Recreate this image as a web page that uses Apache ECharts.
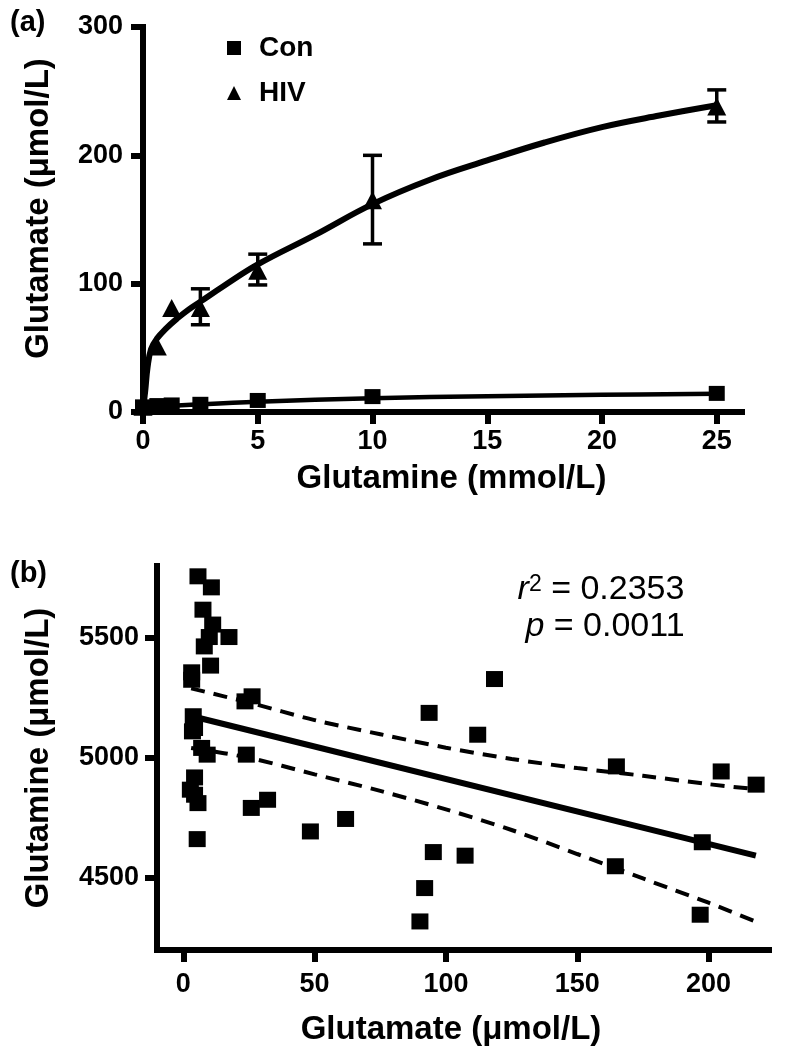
<!DOCTYPE html>
<html><head><meta charset="utf-8">
<script src="https://cdn.jsdelivr.net/npm/echarts@6/dist/echarts.min.js"></script>
<style>html,body{margin:0;padding:0;background:#fff}#c{width:800px;height:1054px}</style>
</head><body><div id="c"></div>
<script>
// ---------- Panel (a) ----------
const glnConc = [0, 0.625, 1.25, 2.5, 5, 10, 25];
const conGlu = [4, 5, 5.5, 6, 9, 12, 14.5];
const hivGlu = [4, 51, 81, 81, 110, 165, 238];
const hivErrLow = [4, 51, 81, 68, 99, 131, 226];
const hivErrHigh = [4, 51, 81, 96, 123, 200, 251];
const hivFitX = [0, 0.05, 0.1, 0.2, 0.35, 0.6, 1, 1.5, 2, 2.5, 3.5, 5, 7.5, 10, 12.5, 15, 17.5, 20, 22.5, 25];
const hivFitY = [0, 9, 17, 35, 49, 57, 65, 73, 80, 86, 98, 115, 138, 162, 181, 196, 210, 222, 231, 239];
const conFitX = [0, 2.5, 5, 10, 15, 20, 25];
const conFitY = [3.5, 6, 8, 10.8, 12.3, 13.4, 14.3];
const xTicksA = [0, 5, 10, 15, 20, 25];
const yTicksA = [0, 100, 200, 300];

// ---------- Panel (b) ----------
const glutamate = [5.6,10.7,7.5,11.2,9.9,17.4,8.0,10.4,3.2,3.2,26.2,23.5,3.8,4.3,7.0,9.1,24.0,4.3,4.3,5.6,32.1,25.9,5.3,48.4,61.8,93.6,118.5,112.1,95.2,107.3,91.9,90.1,164.9,204.8,218.1,197.6,164.5,196.8,3.5,2.7];
const glutamine = [5757,5711,5618,5556,5504,5504,5465,5385,5357,5326,5257,5236,5174,5125,5042,5014,5014,4919,4847,4812,4826,4792,4662,4694,4746,5188,5329,5097,4608,4593,4458,4319,4965,4944,4889,4649,4549,4347,5111,4868];
const regX = [3, 218];
const regY = [5175, 4593];
const bandX = [3, 25, 50, 75, 100, 125, 150, 175, 200, 218];
const bandUpper = [5290, 5231, 5158, 5099, 5043, 4996, 4958, 4926, 4891, 4870];
const bandLower = [5042, 5001, 4932, 4863, 4786, 4700, 4600, 4498, 4397, 4318];
const xTicksB = [0, 50, 100, 150, 200];
const yTicksB = [4500, 5000, 5500];

const FONT = '"Liberation Sans", Arial, Helvetica, sans-serif';
const zip = (xs, ys) => xs.map((x, i) => [x, ys[i]]);

function axis(opts) {
  return Object.assign({
    type: 'value',
    nameLocation: 'middle',
    nameTextStyle: { fontFamily: FONT, fontWeight: 'bold', fontSize: 33, color: '#000' },
    axisLine: { show: true, onZero: false, lineStyle: { color: '#000', width: 6, cap: 'square' } },
    axisTick: { show: true, length: 12, lineStyle: { color: '#000', width: 6 } },
    axisLabel: { fontFamily: FONT, fontWeight: 'bold', fontSize: 27, color: '#000', formatter: v => String(v) },
    splitLine: { show: false }
  }, opts);
}

const chart = echarts.init(document.getElementById('c'), null, { renderer: 'canvas' });
chart.setOption({
  animation: false,
  backgroundColor: '#fff',
  grid: [
    { left: 143, right: 58, top: 27, bottom: 642, containLabel: false, outerBoundsMode: 'none' },
    { left: 157, right: 31, top: 566, bottom: 104, containLabel: false, outerBoundsMode: 'none' }
  ],
  xAxis: [
    axis({ gridIndex: 0, min: 0, max: 26.1, name: 'Glutamine (mmol/L)', nameGap: 50,
      nameTextStyle: { fontFamily: FONT, fontWeight: 'bold', fontSize: 33, color: '#000', padding: [0, 0, 0, 18] },
      axisTick: { show: true, length: 12, customValues: xTicksA, lineStyle: { color: '#000', width: 6 } },
      axisLabel: { fontFamily: FONT, fontWeight: 'bold', fontSize: 27, color: '#000', margin: 16, customValues: xTicksA, formatter: v => String(v) } }),
    axis({ gridIndex: 1, min: -10, max: 223, name: 'Glutamate (μmol/L)', nameGap: 63,
      nameTextStyle: { fontFamily: FONT, fontWeight: 'bold', fontSize: 33, color: '#000', padding: [0, 24, 0, 0] },
      axisTick: { show: true, length: 12, customValues: xTicksB, lineStyle: { color: '#000', width: 6 } },
      axisLabel: { fontFamily: FONT, fontWeight: 'bold', fontSize: 27, color: '#000', margin: 21, customValues: xTicksB, formatter: v => String(v) } })
  ],
  yAxis: [
    axis({ gridIndex: 0, min: 0, max: 300, name: 'Glutamate (μmol/L)', nameGap: 88,
      nameTextStyle: { fontFamily: FONT, fontWeight: 'bold', fontSize: 33, color: '#000', padding: [0, 0, 0, 22] },
      axisTick: { show: true, length: 12, customValues: yTicksA, lineStyle: { color: '#000', width: 6 } },
      axisLabel: { fontFamily: FONT, fontWeight: 'bold', fontSize: 27, color: '#000', margin: 20, customValues: yTicksA, formatter: v => String(v) } }),
    axis({ gridIndex: 1, min: 4200, max: 5800, name: 'Glutamine (μmol/L)', nameGap: 102,
      axisTick: { show: true, length: 12, customValues: yTicksB, lineStyle: { color: '#000', width: 6 } },
      axisLabel: { fontFamily: FONT, fontWeight: 'bold', fontSize: 27, color: '#000', margin: 18, customValues: yTicksB, formatter: v => String(v) } })
  ],
  legend: {
    left: 227, top: 34, orient: 'vertical', itemGap: 17, itemWidth: 14, itemHeight: 14, padding: 0,
    selectedMode: false,
    textStyle: { fontFamily: FONT, fontWeight: 'bold', fontSize: 28, color: '#000', padding: [0, 0, 0, 13] },
    data: [{ name: 'Con', icon: 'rect' }, { name: 'HIV', icon: 'triangle' }]
  },
  graphic: [
    { type: 'text', left: 10, top: 8, style: { text: '(a)', fontFamily: FONT, fontWeight: 'bold', fontSize: 29, fill: '#000' } },
    { type: 'text', left: 10, top: 559, style: { text: '(b)', fontFamily: FONT, fontWeight: 'bold', fontSize: 29, fill: '#000' } },
    { type: 'text', x: 601, y: 590, style: {
        text: '{i|r}{s|2} = 0.2353', align: 'center', verticalAlign: 'middle',
        fontFamily: FONT, fontSize: 34, fill: '#000',
        rich: { i: { fontFamily: FONT, fontSize: 34, fontStyle: 'italic', fill: '#000' },
                s: { fontFamily: FONT, fontSize: 23, verticalAlign: 'top', fill: '#000' } } } },
    { type: 'text', x: 605, y: 627, style: {
        text: '{i|p} = 0.0011', align: 'center', verticalAlign: 'middle',
        fontFamily: FONT, fontSize: 34, fill: '#000',
        rich: { i: { fontFamily: FONT, fontSize: 34, fontStyle: 'italic', fill: '#000' } } } }
  ],
  series: [
    { type: 'line', name: 'HIV fit', xAxisIndex: 0, yAxisIndex: 0, data: zip(hivFitX, hivFitY),
      symbol: 'none', smooth: 0.4, lineStyle: { color: '#000', width: 6 }, z: 3, silent: true },
    { type: 'line', name: 'Con fit', xAxisIndex: 0, yAxisIndex: 0, data: zip(conFitX, conFitY),
      symbol: 'none', smooth: 0.4, lineStyle: { color: '#000', width: 4.5 }, z: 3, silent: true },
    { type: 'custom', name: 'HIV err', xAxisIndex: 0, yAxisIndex: 0,
      data: glnConc.map((x, i) => [x, hivErrLow[i], hivErrHigh[i]]),
      encode: { x: 0, y: [1, 2] }, z: 4, silent: true,
      renderItem: function (params, api) {
        if (api.value(2) - api.value(1) < 1) return null;
        const x = api.value(0);
        const pHi = api.coord([x, api.value(2)]);
        const pLo = api.coord([x, api.value(1)]);
        const w = 9.5;
        const st = { stroke: '#000', lineWidth: 3.5 };
        return { type: 'group', children: [
          { type: 'line', shape: { x1: pHi[0], y1: pHi[1], x2: pLo[0], y2: pLo[1] }, style: st },
          { type: 'line', shape: { x1: pHi[0] - w, y1: pHi[1], x2: pHi[0] + w, y2: pHi[1] }, style: st },
          { type: 'line', shape: { x1: pLo[0] - w, y1: pLo[1], x2: pLo[0] + w, y2: pLo[1] }, style: st }
        ] };
      } },
    { type: 'scatter', name: 'Con', xAxisIndex: 0, yAxisIndex: 0, data: zip(glnConc, conGlu),
      symbol: 'rect', symbolSize: [16, 15], itemStyle: { color: '#000', opacity: 1 }, z: 5 },
    { type: 'scatter', name: 'HIV', xAxisIndex: 0, yAxisIndex: 0, data: zip(glnConc, hivGlu),
      symbol: 'triangle', symbolSize: [19, 18], itemStyle: { color: '#000', opacity: 1 }, z: 5 },
    { type: 'line', name: 'Upper 95% CI', xAxisIndex: 1, yAxisIndex: 1, data: zip(bandX, bandUpper),
      symbol: 'none', smooth: 0.3, lineStyle: { color: '#000', width: 4, type: [14, 9] }, z: 3, silent: true },
    { type: 'line', name: 'Lower 95% CI', xAxisIndex: 1, yAxisIndex: 1, data: zip(bandX, bandLower),
      symbol: 'none', smooth: 0.3, lineStyle: { color: '#000', width: 4, type: [14, 9] }, z: 3, silent: true },
    { type: 'line', name: 'Regression', xAxisIndex: 1, yAxisIndex: 1, data: zip(regX, regY),
      symbol: 'none', lineStyle: { color: '#000', width: 6 }, z: 3, silent: true },
    { type: 'scatter', name: 'Samples', xAxisIndex: 1, yAxisIndex: 1, data: zip(glutamate, glutamine),
      symbol: 'rect', symbolSize: [17, 16], itemStyle: { color: '#000', opacity: 1 }, z: 5 }
  ]
});
</script>
</body></html>
